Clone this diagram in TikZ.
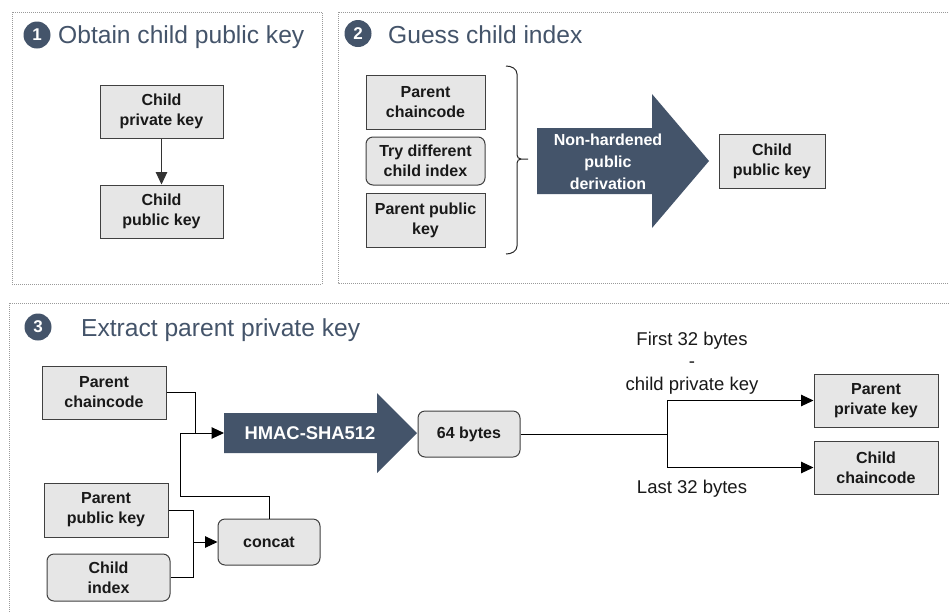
\documentclass[tikz,border=0pt]{standalone}
\usepackage{fontspec}
\setmainfont{Liberation Sans}
\usetikzlibrary{arrows.meta}
\definecolor{slate}{HTML}{44546A}
\definecolor{boxfill}{HTML}{E6E6E6}
\definecolor{boxline}{HTML}{404040}
\definecolor{panelline}{HTML}{9A9A9A}
\tikzset{
 panel/.style={draw=panelline, line width=0.8pt, dash pattern=on 1pt off 1pt},
 gbox/.style={draw=boxline, fill=boxfill, line width=1pt, align=center, inner sep=0pt, font=\fontsize{16}{20}\selectfont\bfseries, text=black!90},
 rbox/.style={gbox, rounded corners=7pt},
 numc/.style={circle, fill=slate, text=white, inner sep=0pt, minimum size=27pt, font=\fontsize{17}{17}\selectfont\bfseries},
 ttl/.style={anchor=base west, text=slate, inner sep=0pt, font=\fontsize{24.6}{28}\selectfont},
 conn/.style={draw=black, line width=1pt},
 arr/.style={conn, -{Triangle[length=12.5pt,width=11.5pt]}},
 lbl/.style={align=center, inner sep=0pt, font=\fontsize{18.5}{22.5}\selectfont, text=black!90},
 bigarrow/.style={fill=slate},
 arrtext/.style={text=white, align=center, inner sep=0pt, font=\fontsize{16}{22}\selectfont\bfseries},
 bracestyle/.style={draw=black!85, line width=1pt}
}
\begin{document}
\begin{tikzpicture}[x=1pt,y=-1pt]
\useasboundingbox (0,0) rectangle (949,611);
\fill[white] (0,0) rectangle (949,611);
% panels
\draw[panel] (12,12) rectangle (322,284);
\draw[panel] (338,12) rectangle (965,283);
\draw[panel] (9,303) rectangle (965,625);

% ---- panel 1
\node[numc] (n1) at (37,35) {1};
\node[ttl] (t1) at (58,43) {Obtain child public key};
\node[gbox, minimum width=123pt, minimum height=53pt] (c1priv) at (161.5,111.5) {Child\\private key};
\node[gbox, minimum width=123pt, minimum height=53pt] (c1pub) at (161.5,211.5) {Child\\public key};
\draw[arr, draw=black!80] (c1priv.south) -- (c1pub.north);

% ---- panel 2
\node[numc] (n2) at (358,33.5) {2};
\node[ttl] (t2) at (388,43) {Guess child index};
\node[gbox, minimum width=119pt, minimum height=54pt] (p2cc) at (425.5,102) {Parent\\chaincode};
\node[rbox, minimum width=119pt, minimum height=48pt] (p2try) at (425.5,161) {Try different\\child index};
\node[gbox, minimum width=119pt, minimum height=54pt] (p2ppk) at (425.5,220) {Parent public\\key};
\draw[bracestyle] (506,66) to[out=0,in=90] (517,74) -- (517,155) to[out=-90,in=180] (521,159) -- (528,159);
\draw[bracestyle] (521,159) to[out=180,in=90] (517,163) -- (517,246) to[out=-90,in=0] (506,254);
\fill[bigarrow] (537,128) -- (652,128) -- (652,94) -- (709,161) -- (652,228) -- (652,194) -- (537,194) -- cycle;
\node[arrtext] (nhd) at (608,162) {Non-hardened\\public\\derivation};
\node[gbox, minimum width=106pt, minimum height=54pt] (p2cpk) at (772,161) {Child\\public key};

% ---- panel 3
\node[numc] (n3) at (38,327) {3};
\node[ttl] (t3) at (81,336) {Extract parent private key};
\node[gbox, minimum width=124pt, minimum height=53pt] (p3cc) at (104,392.5) {Parent\\chaincode};
\node[gbox, minimum width=124pt, minimum height=54pt] (p3ppk) at (106,510) {Parent\\public key};
\node[rbox, minimum width=123pt, minimum height=47pt] (p3ci) at (108.5,577.5) {Child\\index};
\node[rbox, minimum width=102pt, minimum height=46pt] (concat) at (269,542) {concat};
\fill[bigarrow] (224,413) -- (377,413) -- (377,393) -- (417,433) -- (377,473) -- (377,453) -- (224,453) -- cycle;
\node[arrtext, font=\fontsize{18.4}{22}\selectfont\bfseries] (hmac) at (310,433) {HMAC-SHA512};
\coordinate (hmacin) at (224,433);
\node[rbox, minimum width=102pt, minimum height=46pt] (b64) at (469,434) {64 bytes};
\node[gbox, minimum width=124pt, minimum height=53pt] (pprk) at (876,400.5) {Parent\\private key};
\node[gbox, minimum width=124pt, minimum height=53pt] (ccc) at (876,467.5) {Child\\chaincode};

\coordinate (j1) at (195,433);
\coordinate (j2) at (180,433);
\coordinate (j3) at (180,496);
\draw[conn] (p3cc.east) -| (j1);
\draw[conn] (concat.north) |- (j3) -- (j2);
\draw[arr] (j2) -- (hmacin);

\coordinate (k1) at (193,542);
\draw[conn] (p3ppk.east) -| (k1);
\draw[conn] (p3ci.east) -| (k1);
\draw[arr] (k1) -- (concat.west);

\coordinate (s0) at (667,434);
\coordinate (s1) at (667,400.5);
\coordinate (s2) at (667,467.5);
\draw[conn] (b64.east) -- (s0);
\draw[conn] (s1) -- (s2);
\draw[arr] (s1) -- (pprk.west);
\draw[arr] (s2) -- (ccc.west);

\node[lbl] (lfirst) at (692,363) {First 32 bytes\\-\\child private key};
\node[lbl] (llast) at (692,489) {Last 32 bytes};
\end{tikzpicture}
\end{document}
